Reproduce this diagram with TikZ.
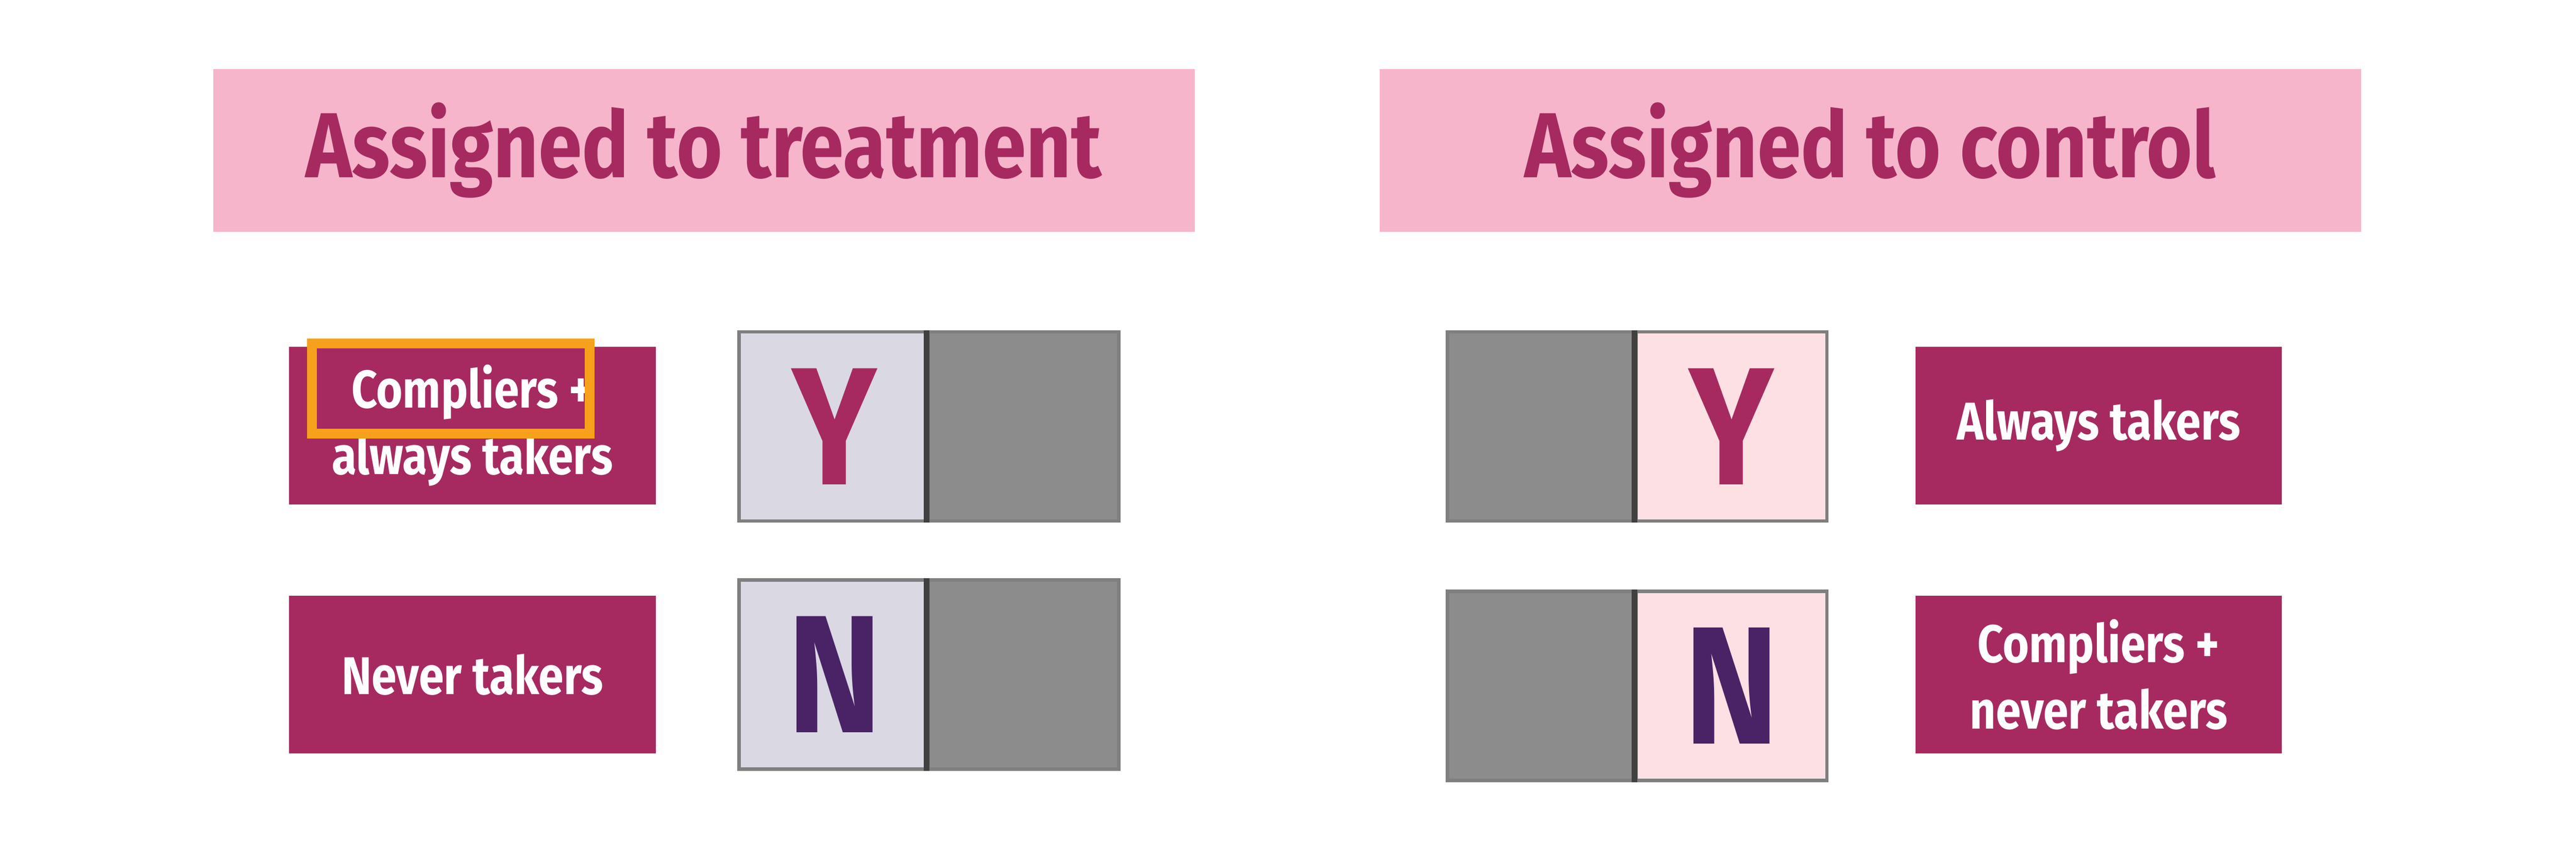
\documentclass[tikz,border=0pt]{standalone}
\usepackage{fontspec}
\setmainfont{Fira Sans}[FakeStretch=0.85,UprightFont=* Bold]
\definecolor{mag}{HTML}{A62A60}
\definecolor{titbg}{HTML}{F6B5CB}
\definecolor{lav}{HTML}{DAD8E3}
\definecolor{gr}{HTML}{8C8C8C}
\definecolor{brd}{HTML}{7F7F7F}
\definecolor{pur}{HTML}{4A2366}
\definecolor{pinkl}{HTML}{FCE0E4}
\definecolor{orng}{HTML}{F7A01C}
\begin{document}
\begin{tikzpicture}[x=0.01cm,y=-0.01cm,
  title/.style={fill=titbg,text=mag,font=\fontsize{16}{18}\selectfont,minimum width=5.97cm,minimum height=0.99cm,inner sep=0},
  lab/.style={fill=mag,text=white,font=\fontsize{9.2}{11.5}\selectfont,minimum width=2.23cm,minimum height=0.96cm,inner sep=0,align=center},
  half/.style={draw=brd,line width=0.6pt,minimum width=1.16cm,minimum height=1.15cm,inner sep=0,font=\fontsize{29}{30}\selectfont}]
\useasboundingbox (0,0) rectangle (1568,522);
\node[title] (t1) at (428.5,91.5) {Assigned to treatment};
\node[title] (t2) at (1138.5,91.5) {Assigned to control};
\node[lab] (l1) at (287.5,259) {Compliers +\\always takers};
\draw[orng,line width=0.06cm] (190,209) rectangle (359,264);
\node[lab] (l2) at (287.5,410.5) {Never takers};
\node[half,fill=lav,text=mag] (y1) at (508,259.5) {Y};
\node[half,fill=gr] (g1) at (623,259.5) {};
\node[half,fill=lav,text=pur] (n1) at (508,410.5) {N};
\node[half,fill=gr] (g2) at (623,410.5) {};
\draw[black!75,line width=1pt] (g1.north west) -- (g1.south west) (g2.north west) -- (g2.south west);
\node[half,fill=gr] (g3) at (939,259.5) {};
\node[half,fill=pinkl,text=mag] (y2) at (1054,259.5) {Y};
\node[half,fill=gr] (g4) at (939,417.5) {};
\node[half,fill=pinkl,text=pur] (n2) at (1054,417.5) {N};
\draw[black!75,line width=1pt] (y2.north west) -- (y2.south west) (n2.north west) -- (n2.south west);
\node[lab] (r1) at (1277.5,259) {Always takers};
\node[lab] (r2) at (1277.5,410.5) {Compliers +\\never takers};
\end{tikzpicture}
\end{document}
